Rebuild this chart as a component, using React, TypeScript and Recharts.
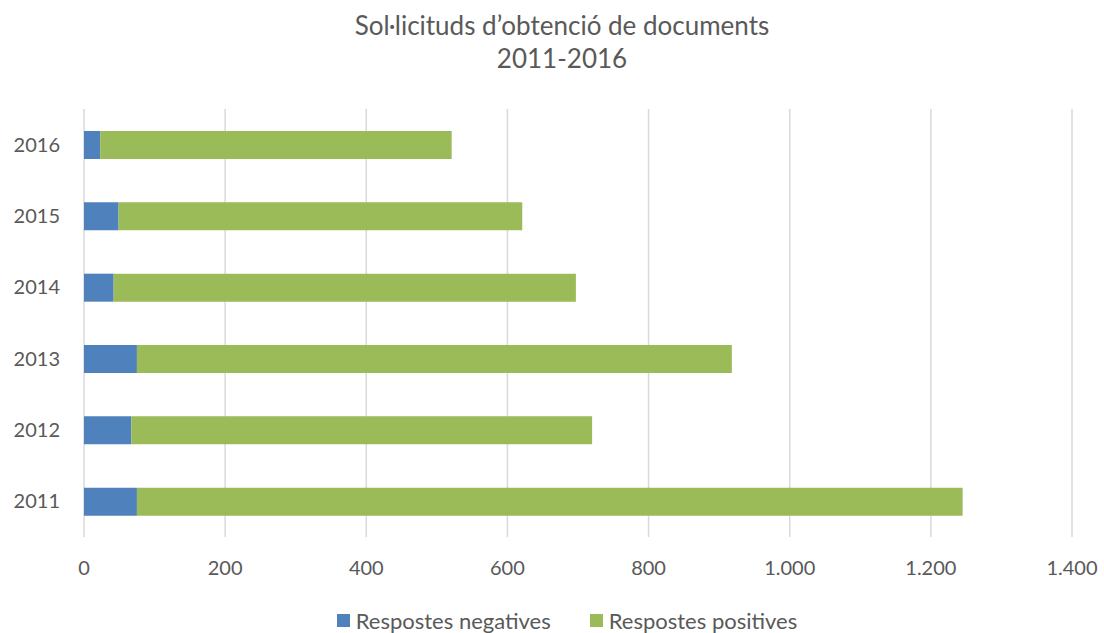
import React from 'react';
import { BarChart, Bar, XAxis, YAxis, CartesianGrid } from 'recharts';

const years = ['2011', '2012', '2013', '2014', '2015', '2016'];
const negatives = [75, 67, 75, 42, 49, 23];
const positives = [1170, 653, 843, 655, 572, 498];
const xTicks = [0, 200, 400, 600, 800, 1000, 1200, 1400];
const titleLines = ['Sol·licituds d\u2019obtenció de documents', '2011-2016'];
const seriesNames = ['Respostes negatives', 'Respostes positives'];
const colors = ['#4F81BD', '#9BBB59'];

const data = years.map((y, i) => ({ year: y, neg: negatives[i], pos: positives[i] }));

const fmt = (v: number) => v.toString().replace(/\B(?=(\d{3})+(?!\d))/g, '.');

const FONT = 'Lato, "Open Sans", sans-serif';
const TEXT = '#595959';

export default function App() {
  return (
    <div style={{ position: 'absolute', left: 0, top: 0, width: 1104, height: 633, fontFamily: FONT, background: '#fff' }}>
      <div style={{ position: 'absolute', left: 212, width: 700, top: 9, textAlign: 'center', color: TEXT, fontSize: 26, lineHeight: '33px' }}>
        {titleLines.map((t) => (
          <div key={t}>{t}</div>
        ))}
      </div>
      <BarChart
        width={1104}
        height={633}
        data={data}
        layout="vertical"
        margin={{ top: 109, right: 32, bottom: 56, left: 0 }}
        barSize={28}
      >
        <CartesianGrid horizontal={false} vertical={true} stroke="#D9D9D9" strokeWidth={1.5} />
        <XAxis
          type="number"
          domain={[0, 1400]}
          ticks={xTicks}
          tickFormatter={fmt}
          axisLine={false}
          tickLine={false}
          tickSize={0}
          tickMargin={24}
          height={40}
          interval={0}
          tick={{ fill: TEXT, fontSize: 20, fontFamily: FONT }}
        />
        <YAxis
          type="category"
          dataKey="year"
          reversed
          width={84}
          axisLine={false}
          tickLine={false}
          tickSize={0}
          tickMargin={24}
          tick={{ fill: TEXT, fontSize: 20, fontFamily: FONT }}
        />
        <Bar dataKey="neg" name={seriesNames[0]} stackId="a" fill={colors[0]} isAnimationActive={false} />
        <Bar dataKey="pos" name={seriesNames[1]} stackId="a" fill={colors[1]} isAnimationActive={false} />
      </BarChart>
      <div style={{ position: 'absolute', top: 607, left: 0, width: 1134, display: 'flex', justifyContent: 'center', alignItems: 'center', color: TEXT, fontSize: 22, gap: 39 }}>
        {seriesNames.map((n, i) => (
          <div key={n} style={{ display: 'flex', alignItems: 'center' }}>
            <span style={{ display: 'inline-block', width: 13, height: 13, background: colors[i], marginRight: 6 }} />
            <span>{n}</span>
          </div>
        ))}
      </div>
    </div>
  );
}
